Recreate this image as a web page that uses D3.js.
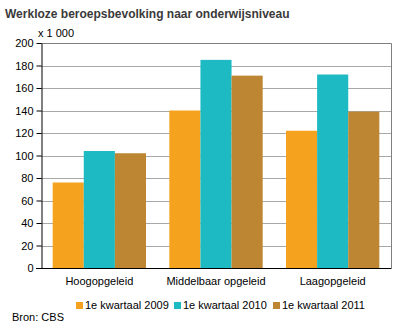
<!DOCTYPE html>
<html>
<head>
<meta charset="utf-8">
<script src="https://cdn.jsdelivr.net/npm/d3@7"></script>
<style>
  html, body { margin: 0; padding: 0; background: #fff; }
  svg { display: block; font-family: Arial, "Liberation Sans", sans-serif; }
</style>
</head>
<body>
<svg id="chart" width="397" height="331"></svg>
<script>
// Werkloze beroepsbevolking (x 1 000) per onderwijsniveau
const categories = ["Hoogopgeleid", "Middelbaar opgeleid", "Laagopgeleid"];
const seriesNames = ["1e kwartaal 2009", "1e kwartaal 2010", "1e kwartaal 2011"];
const values2009 = [76, 140, 122];
const values2010 = [104, 185, 172];
const values2011 = [102, 171, 139];
const yTicks = [0, 20, 40, 60, 80, 100, 120, 140, 160, 180, 200];
const colors = ["#F5A31E", "#1EBAC4", "#BC8632"];

const seriesValues = [values2009, values2010, values2011];

const svg = d3.select("#chart");
const plot = { left: 41, right: 391, top: 43, bottom: 268 };

const x0 = d3.scaleBand()
  .domain(categories)
  .range([plot.left, plot.right])
  .paddingInner(0.2)
  .paddingOuter(0.1);

const x1 = d3.scaleBand()
  .domain(seriesNames)
  .range([0, x0.bandwidth()])
  .padding(0);

const y = d3.scaleLinear()
  .domain([0, 200])
  .range([plot.bottom, plot.top]);

// Title
svg.append("text")
  .attr("x", 5).attr("y", 18)
  .attr("font-size", 12).attr("font-weight", "bold")
  .attr("fill", "#3a3a3a")
  .text("Werkloze beroepsbevolking naar onderwijsniveau");

// Unit
svg.append("text")
  .attr("x", 38).attr("y", 37)
  .attr("font-size", 11).attr("fill", "#000")
  .text("x 1 000");

// Gridlines
svg.append("g")
  .selectAll("line")
  .data(yTicks.filter(d => d > 0 && d < 200))
  .join("line")
  .attr("x1", plot.left).attr("x2", plot.right)
  .attr("y1", d => Math.round(y(d)) + 0.5)
  .attr("y2", d => Math.round(y(d)) + 0.5)
  .attr("stroke", "#a8a8a8").attr("stroke-width", 1);

// Frame top and right
svg.append("path")
  .attr("d", `M${plot.left},${plot.top + 0.5}H${plot.right + 0.5}V${plot.bottom}`)
  .attr("fill", "none").attr("stroke", "#808080").attr("stroke-width", 1);

// Bars
const groups = svg.append("g")
  .selectAll("g")
  .data(categories)
  .join("g")
  .attr("transform", d => `translate(${x0(d)},0)`);

groups.selectAll("rect")
  .data((c, ci) => seriesNames.map((s, si) => ({ s, si, v: seriesValues[si][ci] })))
  .join("rect")
  .attr("x", d => x1(d.s))
  .attr("width", x1.bandwidth())
  .attr("y", d => y(d.v))
  .attr("height", d => y(0) - y(d.v))
  .attr("fill", d => colors[d.si]);

// Y axis
const yAxis = d3.axisLeft(y).tickValues(yTicks).tickSize(5).tickPadding(3).tickSizeOuter(0);
const gy = svg.append("g")
  .attr("transform", `translate(${plot.left + 0.5},0)`)
  .call(yAxis);
gy.select(".domain").attr("stroke", "#000");
gy.selectAll(".tick line").attr("stroke", "#000");
gy.selectAll(".tick text")
  .attr("font-size", 11).attr("fill", "#000")
  .attr("font-family", "Arial, 'Liberation Sans', sans-serif");

// X axis line
svg.append("line")
  .attr("x1", plot.left - 5).attr("x2", plot.right + 0.5)
  .attr("y1", plot.bottom + 0.5).attr("y2", plot.bottom + 0.5)
  .attr("stroke", "#000");

// Category labels
svg.append("g")
  .selectAll("text")
  .data(categories)
  .join("text")
  .attr("x", d => x0(d) + x0.bandwidth() / 2)
  .attr("y", 285)
  .attr("text-anchor", "middle")
  .attr("font-size", 11).attr("fill", "#000")
  .text(d => d);

// Legend
const legendX = [76, 174, 273];
const legend = svg.append("g")
  .selectAll("g")
  .data(seriesNames)
  .join("g")
  .attr("transform", (d, i) => `translate(${legendX[i]},302)`);
legend.append("rect")
  .attr("width", 7).attr("height", 7)
  .attr("fill", (d, i) => colors[i]);
legend.append("text")
  .attr("x", 9).attr("y", 7)
  .attr("font-size", 11).attr("fill", "#000")
  .text(d => d);

// Source
svg.append("text")
  .attr("x", 12).attr("y", 321)
  .attr("font-size", 11).attr("fill", "#000")
  .text("Bron: CBS");
</script>
</body>
</html>
